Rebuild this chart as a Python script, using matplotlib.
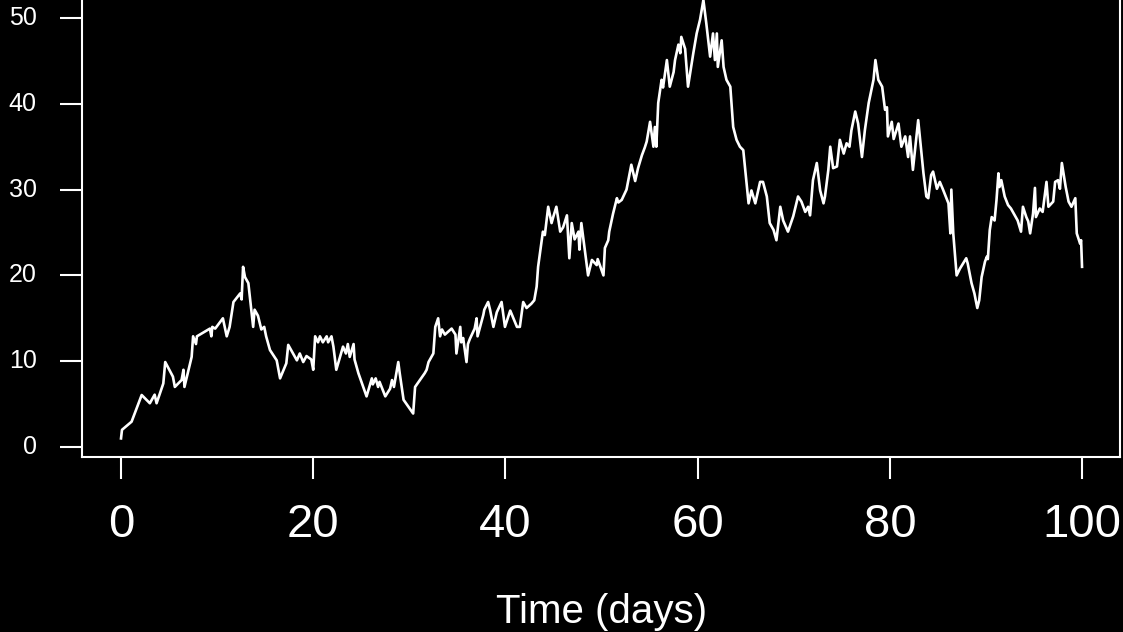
import matplotlib
matplotlib.use("Agg")
import matplotlib.pyplot as plt

plt.rcParams['font.family'] = ['Liberation Sans', 'DejaVu Sans']

# Time (days) and value of the traced random walk
t_part1 = [0, 0.1, 1.1, 2.15, 3.0, 3.5, 3.7, 4.4, 4.6, 5.4, 5.6, 6.3, 6.5, 6.6, 7.35, 7.5,
           7.8, 7.9, 9.25, 9.4, 9.5, 9.8, 10.6, 11.0, 11.3, 11.7, 12.4, 12.55, 12.7, 12.9,
           13.25, 13.75, 13.9, 14.25, 14.6, 14.9, 15.1, 15.5, 16.2, 16.55, 17.2, 17.4,
           17.7, 18.3]
v_part1 = [1.0, 2.0, 2.95, 6.06, 5.1, 6.1, 5.1, 7.4, 9.9, 8.2, 7.0, 7.8, 9.0, 7.0, 10.5, 12.9,
           12.0, 12.9, 13.8, 12.9, 14.0, 13.8, 15.0, 12.9, 14.0, 16.9, 17.9, 17.2, 21.0, 19.8,
           19.1, 14.0, 16.0, 15.3, 13.7, 14.0, 12.9, 11.3, 10.1, 8.0, 9.75, 11.9,
           11.3, 10.1]

t_part2 = [18.6, 18.96, 19.3, 19.8, 20.0, 20.2, 20.5, 20.7, 21.0, 21.4, 21.55, 21.9, 22.1,
           22.4, 23.1, 23.4, 23.6, 23.8, 24.2, 24.3, 24.7, 25.55, 26.1, 26.2, 26.5, 26.75,
           26.9, 27.5, 28.0, 28.2, 28.4, 28.85, 29.0, 29.4, 30.4, 30.6, 31.6, 31.8, 32.0,
           32.5, 32.7, 33.0, 33.2, 33.4, 33.7, 34.4, 34.8, 34.9, 35.3, 35.4, 35.6, 35.95,
           36.1, 36.3, 36.8, 37.0, 37.1, 37.7, 37.8, 38.2]
v_part2 = [10.9, 9.9, 10.6, 10.2, 9.0, 12.9, 12.2, 12.9, 12.2, 12.9, 12.2, 12.9, 11.7,
           9.0, 11.7, 10.9, 12.0, 10.5, 12.0, 10.2, 8.6, 5.9, 8.0, 7.3, 8.0, 7.0,
           7.6, 5.9, 6.8, 7.8, 7.0, 9.9, 8.6, 5.5, 3.9, 7.0, 8.6, 9.0, 9.9,
           10.9, 14.0, 15.0, 12.9, 13.7, 13.1, 13.8, 13.1, 10.9, 14.0, 12.2, 12.7, 9.9,
           12.0, 12.6, 13.8, 15.0, 12.9, 15.4, 16.0, 16.9]

t_part3 = [38.4, 38.75, 39.1, 39.6, 39.95, 40.5, 40.8, 41.2, 41.5, 41.85, 42.2, 42.7, 43.0,
           43.25, 43.4, 43.9, 44.1, 44.45, 44.8, 45.0, 45.3, 45.7, 46.0, 46.4, 46.65, 46.9,
           47.2, 47.6, 47.7, 47.9, 48.6, 49.0, 49.5, 49.6, 50.2, 50.35, 50.7, 50.8, 51.2]
v_part3 = [16.0, 14.0, 15.7, 16.9, 14.0, 15.9, 15.1, 14.0, 14.0, 16.9, 16.2, 16.7, 17.1,
           18.7, 21.0, 25.1, 24.7, 28.0, 26.1, 26.9, 28.0, 25.1, 25.6, 27.0, 22.0, 26.1,
           24.2, 25.1, 23.0, 26.1, 20.0, 21.8, 21.2, 21.9, 20.0, 23.2, 24.1, 25.1, 27.2]

t_part4 = [51.6, 51.75, 52.1, 52.6, 53.1, 53.5, 53.8, 54.2, 54.5, 54.7, 55.05, 55.4, 55.55,
           55.7, 55.9, 56.25, 56.4, 56.8, 57.1, 57.5, 57.65, 58.0, 58.2, 58.3, 58.7, 59.0,
           59.55, 59.9, 60.25, 60.6, 60.9, 61.3, 61.6, 61.8, 62.0, 62.1, 62.5, 62.7, 63.0,
           63.4, 63.7, 64.05]
v_part4 = [29.0, 28.5, 28.8, 30.0, 32.9, 31.0, 32.5, 34.0, 34.9, 35.6, 37.9, 35.0, 37.3,
           35.0, 40.1, 42.8, 41.9, 45.1, 42.0, 43.7, 45.1, 46.9, 45.9, 47.8, 46.4, 42.0,
           45.9, 48.2, 49.8, 52.1, 49.4, 45.5, 48.2, 45.1, 48.2, 44.3, 47.4, 44.3, 42.8,
           42.0, 37.3, 35.8]

t_part5 = [64.4, 64.75, 65.3, 65.6, 66.0, 66.5, 66.8, 67.2, 67.5, 67.9, 68.2, 68.6, 68.9,
           69.4, 69.95, 70.45, 70.8, 71.2, 71.5, 71.7, 72.0, 72.4, 72.75, 73.1, 73.25, 73.6,
           73.8, 74.1, 74.5, 74.8, 75.2, 75.5, 75.8, 76.0, 76.4, 76.7, 77.1, 77.4, 77.8,
           78.0, 78.3, 78.5, 78.8, 79.2, 79.5, 79.7, 79.8, 80.2, 80.4, 80.9, 81.2, 81.6,
           81.9, 82.1, 82.4, 82.95, 83.5]
v_part5 = [35.0, 34.6, 28.4, 29.9, 28.4, 30.9, 30.9, 29.2, 26.1, 25.3, 24.1, 28.0, 26.4,
           25.1, 26.9, 29.2, 28.6, 27.4, 28.0, 27.0, 31.1, 33.1, 29.9, 28.4, 29.2, 32.3,
           35.0, 32.5, 32.7, 35.8, 34.2, 35.4, 35.0, 36.9, 39.1, 37.7, 33.8, 36.9, 40.1,
           41.2, 42.8, 45.1, 42.8, 42.0, 39.3, 39.6, 36.2, 37.9, 35.9, 37.7, 35.0, 36.2,
           33.8, 36.2, 32.3, 38.1, 31.9]

t_part6 = [83.8, 84.0, 84.3, 84.5, 84.9, 85.2, 85.5, 86.1, 86.3, 86.4, 86.6, 86.95, 87.3,
           87.95, 88.1, 88.5, 88.8, 89.1, 89.3, 89.55, 89.9, 90.1, 90.2, 90.4, 90.6, 90.9,
           91.1, 91.3, 91.4, 91.6, 91.95, 92.3, 92.6, 93.0, 93.3, 93.65, 93.85, 94.2, 94.4,
           94.6, 94.9, 95.1, 95.2, 95.6, 95.9, 96.3, 96.5, 97.0, 97.2, 97.5, 97.7, 97.9,
           98.3, 98.6, 98.9, 99.3, 99.45, 99.8, 99.9, 100.0]
v_part6 = [29.2, 29.0, 31.7, 32.1, 30.1, 30.9, 30.1, 28.4, 24.9, 30.0, 24.9, 20.0, 20.8,
           22.0, 21.4, 19.1, 17.9, 16.2, 17.1, 19.8, 21.6, 22.2, 21.9, 25.3, 26.8, 26.4,
           28.8, 31.9, 30.3, 31.1, 29.2, 28.2, 27.8, 27.0, 26.4, 25.1, 28.0, 26.8, 26.3,
           24.9, 27.2, 30.2, 26.8, 27.8, 27.4, 30.9, 28.0, 28.6, 30.9, 31.1, 30.1, 33.1,
           30.3, 28.6, 28.0, 29.0, 24.9, 23.7, 24.1, 21.0]

time_days = t_part1 + t_part2 + t_part3 + t_part4 + t_part5 + t_part6
values = v_part1 + v_part2 + v_part3 + v_part4 + v_part5 + v_part6

x_ticks = [0, 20, 40, 60, 80, 100]
y_ticks = [0, 10, 20, 30, 40, 50]
x_label = "Time (days)"

W, H = 1123, 632
fig = plt.figure(figsize=(W / 100, H / 100), dpi=100, facecolor='black')

# axes box: left 82px, right 1120px, bottom 457px, top above the image
left_px, right_px, bottom_px, top_px = 82, 1120, 457, -16.3
ax = fig.add_axes([left_px / W, 1 - bottom_px / H,
                   (right_px - left_px) / W, (bottom_px - top_px) / H])
ax.set_facecolor('black')
ax.plot(time_days, values, color='white', lw=1.9, solid_joinstyle='round')

ax.set_xlim(-4.06, 103.95)
ax.set_ylim(-1.166, 54.0)

for s in ax.spines.values():
    s.set_color('white')
    s.set_linewidth(1.5)

ax.set_xticks(x_ticks)
ax.set_yticks(y_ticks)
ax.set_xticklabels([str(v) for v in x_ticks])
ax.set_yticklabels([str(v) for v in y_ticks])
ax.tick_params(axis='x', colors='white', length=16, width=1.5, pad=17, labelsize=34)
ax.tick_params(axis='y', colors='white', length=16, width=1.5, pad=16.5, labelsize=18)
for lab in ax.get_yticklabels():
    lab.set_verticalalignment('center')

fig.text(602 / W, 1 - 623 / H, x_label, color='white', fontsize=29,
         ha='center', va='baseline')

fig.savefig('out.png', dpi=100, facecolor='black')
